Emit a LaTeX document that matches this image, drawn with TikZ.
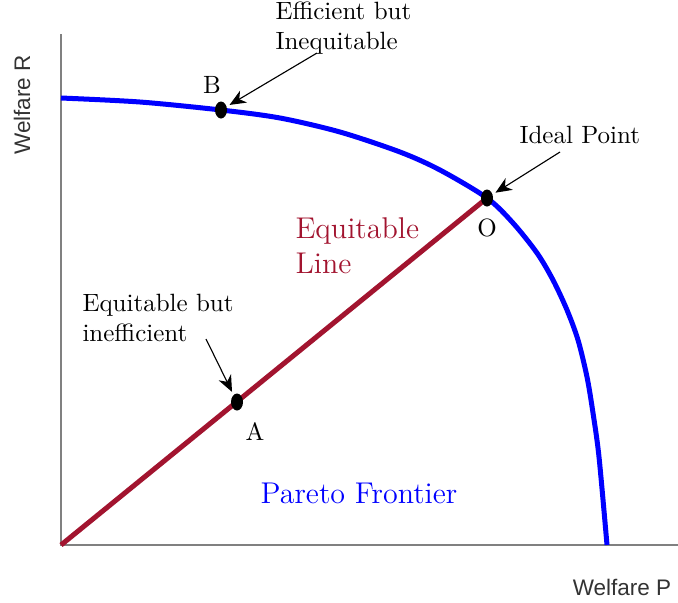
\documentclass[tikz,border=0pt]{standalone}
\usepackage{fontspec}
\newfontfamily\axisfont{Liberation Sans}
\usetikzlibrary{arrows.meta, shapes.geometric}
\definecolor{eqred}{RGB}{162,20,47}

\begin{document}
\begin{tikzpicture}[x=0.4pt, y=-0.4pt,
    dot/.style={ellipse, fill=black, inner sep=0pt, minimum width=4.8pt, minimum height=6.8pt},
    pointer/.style={-{Stealth[length=6.5pt, width=5.5pt, inset=2pt]}, line width=0.45pt, shorten >=1.2pt},
    axislabel/.style={font=\axisfont\small, text=black!80},
    note/.style={align=left, anchor=west, inner sep=0pt}]
\useasboundingbox (0,0) rectangle (678,602);

% Axes
\draw[gray, line width=0.6pt] (61,34) -- (61,545) -- (678,545);
\node[axislabel, rotate=90] (welfR) at (22,105) {Welfare R};
\node[axislabel] (welfP) at (622,587) {Welfare P};

% Pareto frontier
\draw[blue, line width=2pt] plot[smooth, tension=0.5] coordinates {
    (61,98) (140,102) (221,110) (280,118) (340,132) (400,152) (440,170)
    (487,198) (513,223) (537,253) (553,280) (567,310) (578,340)
    (587,377) (593,413) (599,457) (607,545)};
\node[blue, font=\large] (pareto) at (359,493) {Pareto Frontier};

% Equitable line
\draw[eqred, line width=2pt] (61,545) -- (487,198);
\node[note, eqred, font=\large] (eqline) at (295,246) {Equitable\\Line};

% Points
\node[dot] (B) at (221,110) {};
\node[dot] (O) at (487,198) {};
\node[dot] (A) at (237,402) {};
\node (lblB) at (212,85) {B};
\node (lblO) at (487,228) {O};
\node (lblA) at (255,432) {A};

% Annotations
\node[note] (effTxt) at (275,28) {Efficient but\\Inequitable};
\node[note] (idealTxt) at (519,135) {Ideal Point};
\node[note] (eqTxt) at (82,318) {Equitable but\\inefficient};
\coordinate (effTail) at (317,53);
\coordinate (idealTail) at (560,152);
\coordinate (eqTail) at (206,339);
\draw[pointer] (effTail) -- (B);
\draw[pointer] (idealTail) -- (O);
\draw[pointer] (eqTail) -- (A);

\end{tikzpicture}
\end{document}
